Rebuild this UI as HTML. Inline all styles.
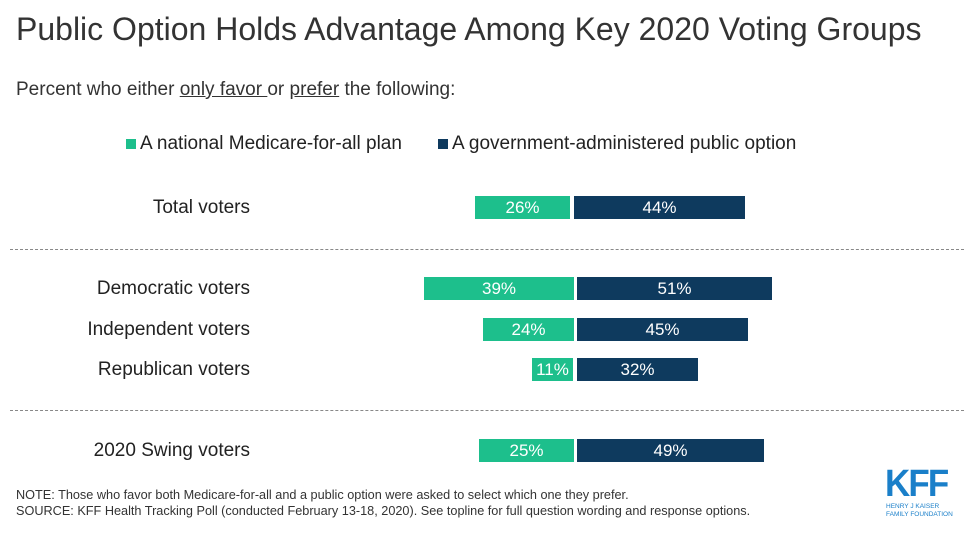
<!DOCTYPE html>
<html><head><style>
body{margin:0;width:974px;height:536px;background:#fff;font-family:"Liberation Sans",Arial,sans-serif;color:#333;position:relative;overflow:hidden}
.a{position:absolute;white-space:nowrap}
.bar{position:absolute;height:23px;color:#fff;font-size:17px;line-height:23px;text-align:center}
.g{background:#1dbf8c}.n{background:#0e3a5e}
.lab{position:absolute;font-size:19px;color:#222;text-align:right;width:250px;left:0}
.dash{position:absolute;left:10px;width:954px;border-top:1px dashed #888}
</style></head><body>
<div class="a" style="left:16px;top:11px;font-size:32px;color:#333">Public Option Holds Advantage Among Key 2020 Voting Groups</div>
<div class="a" style="left:16px;top:79px;font-size:19px;color:#333">Percent who either <u>only favor </u> or <u>prefer</u> the following:</div>
<div class="a" style="left:126px;top:133px;font-size:19px;color:#222"><span style="display:inline-block;width:10px;height:10px;background:#1dbf8c;margin-right:4px"></span>A national Medicare-for-all plan</div>
<div class="a" style="left:438px;top:133px;font-size:19px;color:#222"><span style="display:inline-block;width:10px;height:10px;background:#0e3a5e;margin-right:4px"></span>A government-administered public option</div>

<div class="lab" style="top:197px">Total voters</div>
<div class="bar g" style="left:475px;top:196px;width:95px">26%</div>
<div class="bar n" style="left:574px;top:196px;width:171px">44%</div>
<div class="dash" style="top:249px"></div>
<div class="lab" style="top:278px">Democratic voters</div>
<div class="bar g" style="left:424px;top:277px;width:150px">39%</div>
<div class="bar n" style="left:577px;top:277px;width:195px">51%</div>
<div class="lab" style="top:319px">Independent voters</div>
<div class="bar g" style="left:483px;top:318px;width:91px">24%</div>
<div class="bar n" style="left:577px;top:318px;width:171px">45%</div>
<div class="lab" style="top:359px">Republican voters</div>
<div class="bar g" style="left:532px;top:358px;width:41px">11%</div>
<div class="bar n" style="left:577px;top:358px;width:121px">32%</div>
<div class="dash" style="top:410px"></div>
<div class="lab" style="top:440px">2020 Swing voters</div>
<div class="bar g" style="left:479px;top:439px;width:95px">25%</div>
<div class="bar n" style="left:577px;top:439px;width:187px">49%</div>

<div class="a" style="left:16px;top:488px;font-size:12.7px;color:#333">NOTE: Those who favor both Medicare-for-all and a public option were asked to select which one they prefer.</div>
<div class="a" style="left:16px;top:504px;font-size:12.7px;color:#333">SOURCE: KFF Health Tracking Poll (conducted February 13-18, 2020). See topline for full question wording and response options.</div>
<div class="a" style="left:885px;top:466px;font-size:38px;font-weight:bold;color:#1a7fc9;letter-spacing:-2px;line-height:36px;transform:scaleX(0.92);transform-origin:left">KFF</div>
<div class="a" style="left:886px;top:503px;font-size:6.5px;color:#1a7fc9;line-height:7.5px">HENRY J KAISER<br>FAMILY FOUNDATION</div>
</body></html>
